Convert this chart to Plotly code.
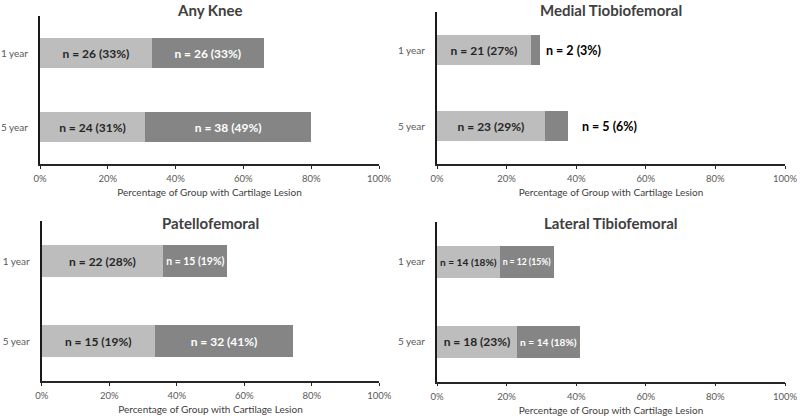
import plotly.graph_objects as go

# ---- data ----
panel_titles = ["Any Knee", "Medial Tiobiofemoral", "Patellofemoral", "Lateral Tibiofemoral"]
categories = ["1 year", "5 year"]
x_tick_vals = [0, 20, 40, 60, 80, 100]
x_tick_text = ["0%", "20%", "40%", "60%", "80%", "100%"]
axis_title = "Percentage of Group with Cartilage Lesion"

# bar lengths (percent): [1 year, 5 year]
any_knee_light = [33, 31]
any_knee_dark = [33, 49]
medial_light = [27, 31]
medial_dark = [2.5, 6.5]
patello_light = [36, 33.5]
patello_dark = [19, 41]
lateral_light = [18, 23]
lateral_dark = [15.5, 18]

any_knee_light_lbl = ["n = 26 (33%)", "n = 24 (31%)"]
any_knee_dark_lbl = ["n = 26 (33%)", "n = 38 (49%)"]
medial_light_lbl = ["n = 21 (27%)", "n = 23 (29%)"]
medial_dark_lbl = ["n = 2 (3%)", "n = 5 (6%)"]
patello_light_lbl = ["n = 22 (28%)", "n = 15 (19%)"]
patello_dark_lbl = ["n = 15 (19%)", "n = 32 (41%)"]
lateral_light_lbl = ["n = 14 (18%)", "n = 18 (23%)"]
lateral_dark_lbl = ["n = 12 (15%)", "n = 14 (18%)"]

# ---- style ----
W, H = 800, 416
LIGHT = "#bdbdbd"
DARK = "#858585"
FONT = "Lato"

def fx(px):
    return px / W

def fy(py):
    return 1 - py / H

# panel geometry in pixels: x0, x1, ytop, ybottom
geom = [
    (40, 379, 16, 164),
    (437, 785, 12, 164),
    (41.7, 379.3, 221, 381),
    (437, 785, 222, 381.7),
]

panels = [
    (any_knee_light, any_knee_dark, any_knee_light_lbl, any_knee_dark_lbl, "inside"),
    (medial_light, medial_dark, medial_light_lbl, medial_dark_lbl, "outside"),
    (patello_light, patello_dark, patello_light_lbl, patello_dark_lbl, "inside"),
    (lateral_light, lateral_dark, lateral_light_lbl, lateral_dark_lbl, "inside"),
]

fig = go.Figure()
layout = dict(
    width=W, height=H, margin=dict(l=0, r=0, t=0, b=0, autoexpand=False),
    paper_bgcolor="white", plot_bgcolor="white",
    barmode="stack", showlegend=False,
    font=dict(family=FONT, color="#595959", size=9),
    annotations=[],
)

for i, (lv, dv, ll, dl, mode) in enumerate(panels):
    n = "" if i == 0 else str(i + 1)
    xa, ya = "x" + n, "y" + n
    fig.add_trace(go.Bar(
        y=categories, x=lv, orientation="h", xaxis=xa, yaxis=ya,
        marker=dict(color=LIGHT, line=dict(width=0)), width=0.4,
        text=ll, textposition="inside", insidetextanchor="middle",
        textfont=dict(family=FONT, size=12, color="#262626", weight="bold"),
        hoverinfo="skip", cliponaxis=False,
    ))
    if mode == "inside":
        fig.add_trace(go.Bar(
            y=categories, x=dv, orientation="h", xaxis=xa, yaxis=ya,
            marker=dict(color=DARK, line=dict(width=0)), width=0.4,
            text=dl, textposition="inside", insidetextanchor="middle",
            textfont=dict(family=FONT, size=12, color="white", weight="bold"),
            hoverinfo="skip", cliponaxis=False,
        ))
    else:
        fig.add_trace(go.Bar(
            y=categories, x=dv, orientation="h", xaxis=xa, yaxis=ya,
            marker=dict(color=DARK, line=dict(width=0)), width=0.4,
            hoverinfo="skip",
        ))
        shifts = [4, 12]
        for c, a, b, t, s in zip(categories, lv, dv, dl, shifts):
            layout["annotations"].append(dict(
                x=a + b, y=c, xref=xa, yref=ya, text="<b>%s</b>" % t,
                showarrow=False, xanchor="left", xshift=s,
                font=dict(family=FONT, size=12.5, color="black"),
            ))
    x0, x1, yt, yb = geom[i]
    layout["xaxis" + n] = dict(
        domain=[fx(x0), fx(x1)], anchor=ya, range=[0, 100], automargin=False,
        tickvals=x_tick_vals, ticktext=x_tick_text, ticklabeloverflow="allow",
        showline=True, linecolor="#262626", linewidth=1.5,
        ticks="outside", ticklen=3, tickcolor="#262626", tickwidth=1,
        showgrid=False, zeroline=False, ticklabelstandoff=2,
        tickfont=dict(family=FONT, size=9.5, color="#595959"),
        title=dict(text=axis_title, font=dict(family=FONT, size=10, color="#404040"), standoff=6),
    )
    layout["yaxis" + n] = dict(
        domain=[fy(yb), fy(yt)], anchor=xa, range=[1.5, -0.5], automargin=False,
        type="category", categoryorder="array", categoryarray=categories,
        showline=True, linecolor="#1a1a1a", linewidth=2,
        ticks="", showgrid=False, zeroline=False, ticklabelstandoff=8,
        tickfont=dict(family=FONT, size=10, color="#595959"),
    )
    layout["annotations"].append(dict(
        x=(x0 + x1) / 2 / W + 0.0, y=fy(10) if i < 2 else fy(223), xref="paper", yref="paper",
        text="<b>%s</b>" % panel_titles[i], showarrow=False,
        xanchor="center", yanchor="middle",
        font=dict(family=FONT, size=15, color="#404040"),
    ))

fig.update_layout(**layout)
fig.write_html("out.html", config={"displayModeBar": False},
               post_script="document.body.style.margin='0';document.body.style.overflow='hidden';")
